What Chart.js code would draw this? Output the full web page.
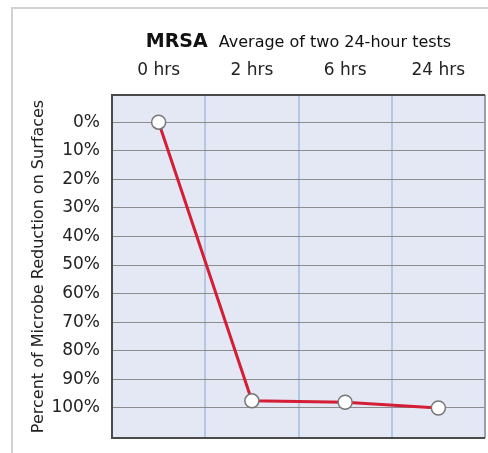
<!DOCTYPE html>
<html>
<head>
<meta charset="utf-8">
<script src="https://cdn.jsdelivr.net/npm/chart.js@4"></script>
<style>
  html, body { margin: 0; padding: 0; background: #fff; }
  #wrap { position: relative; width: 488px; height: 453px; overflow: hidden; }
  #frame { position: absolute; left: 11px; top: 7px; width: 600px; height: 600px;
           border-top: 2px solid #d2d2d2; border-left: 2px solid #d2d2d2; }
  #chart { position: absolute; left: 0; top: 0; }
</style>
</head>
<body>
<div id="wrap">
  <div id="frame"></div>
  <canvas id="chart" width="488" height="453"></canvas>
</div>
<script>
// chart data
const hours = ['0 hrs', '2 hrs', '6 hrs', '24 hrs'];
const reduction = [0, 97.5, 98, 100];   // percent reduction, MRSA
const yTicks = [0, 10, 20, 30, 40, 50, 60, 70, 80, 90, 100];

const fontFamily = '"DejaVu Sans", Arial, sans-serif';
const textColor = '#222';

// plot background, frame and the two-part heading
const decor = {
  id: 'decor',
  beforeDraw(chart) {
    const { ctx, chartArea: a } = chart;
    ctx.save();
    ctx.fillStyle = '#e3e8f4';
    ctx.fillRect(a.left, a.top, a.right - a.left, a.bottom - a.top);
    ctx.restore();
  },
  beforeDatasetsDraw(chart) {
    const { ctx, chartArea: a } = chart;
    ctx.save();
    ctx.lineWidth = 2;
    ctx.strokeStyle = '#9aa0aa';
    ctx.beginPath();
    ctx.moveTo(a.right, a.top);
    ctx.lineTo(a.right, a.bottom);
    ctx.stroke();
    ctx.strokeStyle = '#4a4a4a';
    ctx.beginPath();
    ctx.moveTo(a.right, a.top);
    ctx.lineTo(a.left, a.top);
    ctx.lineTo(a.left, a.bottom);
    ctx.lineTo(a.right, a.bottom);
    ctx.stroke();
    ctx.restore();
  },
  afterDraw(chart) {
    const { ctx, chartArea: a } = chart;
    const bold = 'MRSA';
    const rest = 'Average of two 24-hour tests';
    ctx.save();
    ctx.fillStyle = '#111';
    ctx.textBaseline = 'alphabetic';
    ctx.font = 'bold 19px ' + fontFamily;
    const w1 = ctx.measureText(bold).width;
    ctx.font = '16px ' + fontFamily;
    const w2 = ctx.measureText(rest).width;
    const gap = 11;
    const x0 = (a.left + a.right) / 2 - (w1 + gap + w2) / 2;
    ctx.font = 'bold 19px ' + fontFamily;
    ctx.fillText(bold, x0, 47);
    ctx.font = '16px ' + fontFamily;
    ctx.fillText(rest, x0 + w1 + gap, 47);
    ctx.restore();
  }
};

new Chart(document.getElementById('chart'), {
  type: 'line',
  data: {
    labels: hours,
    datasets: [{
      data: reduction,
      borderColor: '#d41e35',
      borderWidth: 3,
      pointRadius: 7,
      pointHoverRadius: 7,
      pointBackgroundColor: '#ffffff',
      pointBorderColor: '#777777',
      pointBorderWidth: 1.5,
      tension: 0
    }]
  },
  options: {
    responsive: false,
    animation: false,
    events: [],
    layout: { autoPadding: false, padding: { left: 20, right: 3, top: 0, bottom: 15 } },
    plugins: {
      legend: { display: false },
      tooltip: { enabled: false }
    },
    scales: {
      x: {
        position: 'top',
        offset: true,
        afterFit: s => { s.height = 95; s.paddingLeft = 0; s.paddingRight = 0; },
        border: { display: false },
        grid: { offset: true, drawTicks: false, color: '#b4c8e6', lineWidth: 2 },
        ticks: { color: textColor, padding: 14, font: { family: fontFamily, size: 17 } }
      },
      y: {
        reverse: true,
        min: -9.5,
        max: 110.5,
        afterBuildTicks: s => { s.ticks = yTicks.map(v => ({ value: v })); },
        afterFit: s => { s.width = 92; s.paddingTop = 0; s.paddingBottom = 0; },
        border: { display: false },
        grid: { drawTicks: false, color: '#8c8c8c', lineWidth: 1 },
        ticks: {
          color: textColor,
          padding: 12,
          font: { family: fontFamily, size: 17 },
          callback: v => v + '%'
        },
        title: {
          display: true,
          text: 'Percent of Microbe Reduction on Surfaces',
          color: textColor,
          padding: { top: 9, bottom: 0 },
          font: { family: fontFamily, size: 16 }
        }
      }
    }
  },
  plugins: [decor]
});
</script>
</body>
</html>
